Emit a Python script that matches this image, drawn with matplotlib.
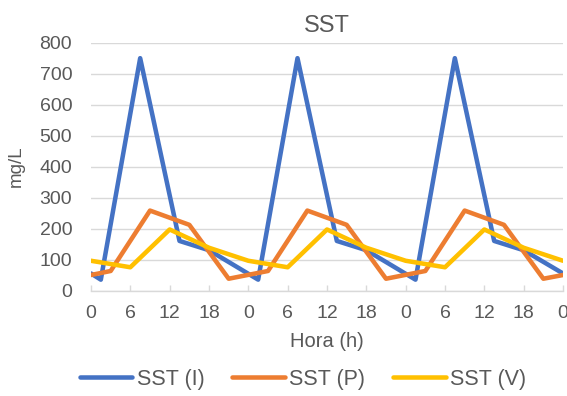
import matplotlib
matplotlib.use("Agg")
import matplotlib.pyplot as plt

# data (hours, mg/L)
hours_i = [0, 1.5, 7.5, 13.5, 18, 25.5, 31.5, 37.5, 42, 49.5, 55.5, 61.5, 66, 72]
sst_i = [55, 35, 750, 160, 130, 35, 750, 160, 130, 35, 750, 160, 130, 55]

hours_p = [0, 3, 9, 15, 21, 27, 33, 39, 45, 51, 57, 63, 69, 72]
sst_p = [50, 63, 258, 212, 38, 63, 258, 212, 38, 63, 258, 212, 38, 50]

hours_v = [0, 6, 12, 18, 24, 30, 36, 42, 48, 54, 60, 66, 72]
sst_v = [96, 75, 197, 138, 96, 75, 197, 138, 96, 75, 197, 138, 96]

xticks = list(range(0, 73, 6))
xtick_labels = [str(h % 24) for h in xticks]

plt.rcParams['font.family'] = ['Liberation Sans', 'DejaVu Sans']
txt = '#595959'
grid = '#D9D9D9'

fig = plt.figure(figsize=(5.67, 3.96), dpi=100)
ax = fig.add_axes([91/567, 1-290.5/396, 472/567, 247.8/396])

lw = 3.25
ax.plot(hours_i, sst_i, color='#4472C4', lw=lw, label='SST (I)',
        solid_joinstyle='round', solid_capstyle='round')
ax.plot(hours_p, sst_p, color='#ED7D31', lw=lw, label='SST (P)',
        solid_joinstyle='round', solid_capstyle='round')
ax.plot(hours_v, sst_v, color='#FFC000', lw=lw, label='SST (V)',
        solid_joinstyle='round', solid_capstyle='round')

ax.set_xlim(0, 72)
ax.set_ylim(0, 800)
ax.set_yticks(range(0, 801, 100))
ax.set_xticks(xticks)
ax.set_xticklabels(xtick_labels)

for s in ['top', 'right', 'left']:
    ax.spines[s].set_visible(False)
ax.spines['bottom'].set_color(grid)
ax.spines['bottom'].set_linewidth(1.0)
ax.grid(axis='y', color=grid, lw=1.0)
ax.set_axisbelow(True)

ax.tick_params(axis='x', direction='in', length=4.3, width=1.0, color=grid,
               pad=10.5, labelsize=14, labelcolor=txt)
ax.tick_params(axis='y', length=0, pad=13.5, labelsize=14, labelcolor=txt)

ax.set_title('SST', fontsize=17, color=txt, pad=8)
ax.set_xlabel('Hora (h)', fontsize=14.5, color=txt, labelpad=7)
ax.set_ylabel('mg/L', fontsize=13.5, color=txt)
ax.yaxis.set_label_coords(-0.14, 0.5)

fig.legend(loc='center', bbox_to_anchor=(303/567, 1-379/396), ncol=3,
           frameon=False, fontsize=15.5, handlelength=2.45, handletextpad=0.2,
           columnspacing=1.3, labelcolor=txt, borderaxespad=0)

fig.savefig('out.png', dpi=100)
